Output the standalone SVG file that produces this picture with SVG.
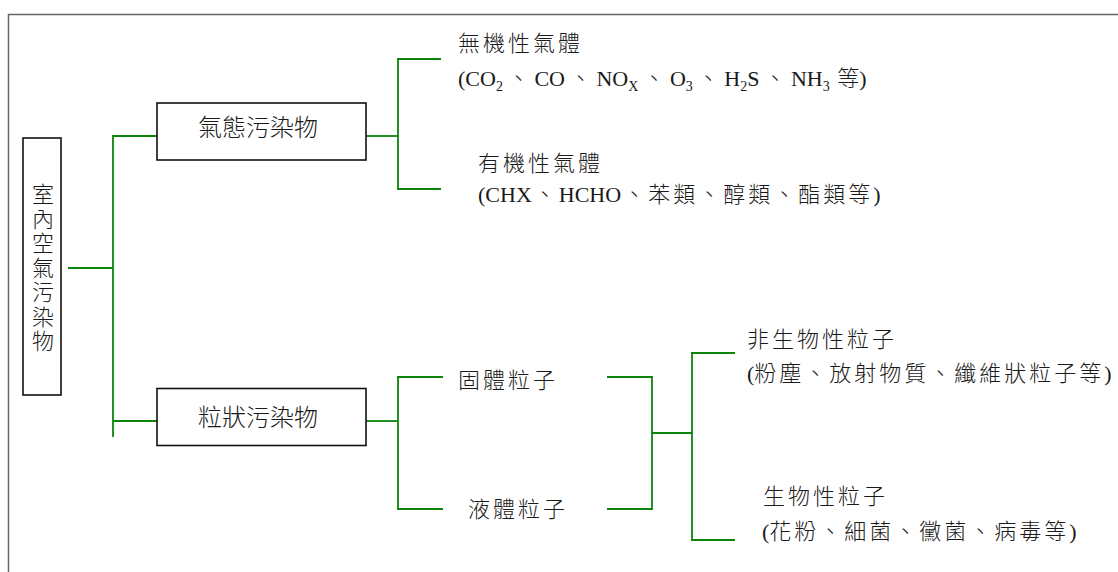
<svg xmlns="http://www.w3.org/2000/svg" width="1118" height="572" viewBox="0 0 1118 572">
<style>
.frame{stroke:#666;stroke-width:1.5;fill:none}
.box{fill:#fff;stroke:#111;stroke-width:1.6}
.conn line{stroke:#0a850a;stroke-width:1.8}
text{font-family:"Liberation Serif","Noto Sans CJK TC",serif;fill:#1a1a1a;font-size:22px;font-weight:300}
.cjk{letter-spacing:3px}
.c4{letter-spacing:5px}
.big{font-size:24px}
.sub{font-size:14px}
</style>
<rect width="1118" height="572" fill="#fff"/>
<path class="frame" d="M8.5,572 V14.5 H1118"/>
<g class="conn">
<line x1="68" y1="268" x2="113" y2="268"/>
<line x1="113" y1="135" x2="113" y2="437"/>
<line x1="113" y1="136" x2="157" y2="136"/>
<line x1="113" y1="421" x2="157" y2="421"/>
<line x1="366" y1="136" x2="398" y2="136"/>
<line x1="398" y1="58" x2="398" y2="190"/>
<line x1="397" y1="59" x2="441" y2="59"/>
<line x1="397" y1="189" x2="441" y2="189"/>
<line x1="366" y1="421" x2="398" y2="421"/>
<line x1="398" y1="376" x2="398" y2="510"/>
<line x1="397" y1="377" x2="443" y2="377"/>
<line x1="397" y1="509" x2="443" y2="509"/>
<line x1="607" y1="377" x2="652" y2="377"/>
<line x1="607" y1="509" x2="652" y2="509"/>
<line x1="652" y1="376" x2="652" y2="510"/>
<line x1="652" y1="433" x2="692" y2="433"/>
<line x1="692" y1="352" x2="692" y2="541"/>
<line x1="691" y1="353" x2="735" y2="353"/>
<line x1="691" y1="540" x2="735" y2="540"/>
</g>
<g id="root">
<rect class="box" x="23" y="138" width="38" height="257"/>
<text text-anchor="middle"><tspan x="43" y="202">室</tspan><tspan x="43" y="226.5">內</tspan><tspan x="43" y="251">空</tspan><tspan x="43" y="275.5">氣</tspan><tspan x="43" y="300">污</tspan><tspan x="43" y="324.5">染</tspan><tspan x="43" y="349">物</tspan></text>
</g>
<g id="gas">
<rect class="box" x="157" y="103" width="209" height="57"/>
<text class="big" x="198" y="135.5">氣態污染物</text>
</g>
<g id="particle">
<rect class="box" x="157" y="388.5" width="209" height="57"/>
<text class="big" x="198" y="425.5">粒狀污染物</text>
</g>
<g id="inorganic">
<text class="cjk" x="458" y="50.5">無機性氣體</text>
<text x="458" y="86">(CO<tspan class="sub" dy="5">2</tspan><tspan class="c4" dx="4.5" dy="-5">、</tspan>CO<tspan class="c4" dx="4.5">、</tspan>NO<tspan class="sub" dy="5">X</tspan><tspan class="c4" dx="4.5" dy="-5">、</tspan>O<tspan class="sub" dy="5">3</tspan><tspan class="c4" dx="4.5" dy="-5">、</tspan>H<tspan class="sub" dy="5">2</tspan><tspan dy="-5">S</tspan><tspan class="c4" dx="4.5">、</tspan>NH<tspan class="sub" dy="5">3</tspan><tspan dy="-5"> </tspan><tspan dx="2">等</tspan>)</text>
</g>
<g id="organic">
<text class="cjk" x="478" y="202" dy="-31">有機性氣體</text>
<text x="478" y="202">(CHX<tspan class="cjk" dx="2">、</tspan>HCHO<tspan class="cjk" dx="2">、苯類、醇類、酯類等</tspan>)</text>
</g>
<g id="solid">
<text class="cjk" x="458" y="388">固體粒子</text>
</g>
<g id="liquid">
<text class="cjk" x="468" y="517">液體粒子</text>
</g>
<g id="nonbio">
<text class="cjk" x="747" y="347">非生物性粒子</text>
<text x="747" y="381">(<tspan class="cjk">粉塵、放射物質、纖維狀粒子等</tspan>)</text>
</g>
<g id="bio">
<text class="cjk" x="763" y="504">生物性粒子</text>
<text x="762" y="539">(<tspan class="cjk">花粉、細菌、黴菌、病毒等</tspan>)</text>
</g>
</svg>
